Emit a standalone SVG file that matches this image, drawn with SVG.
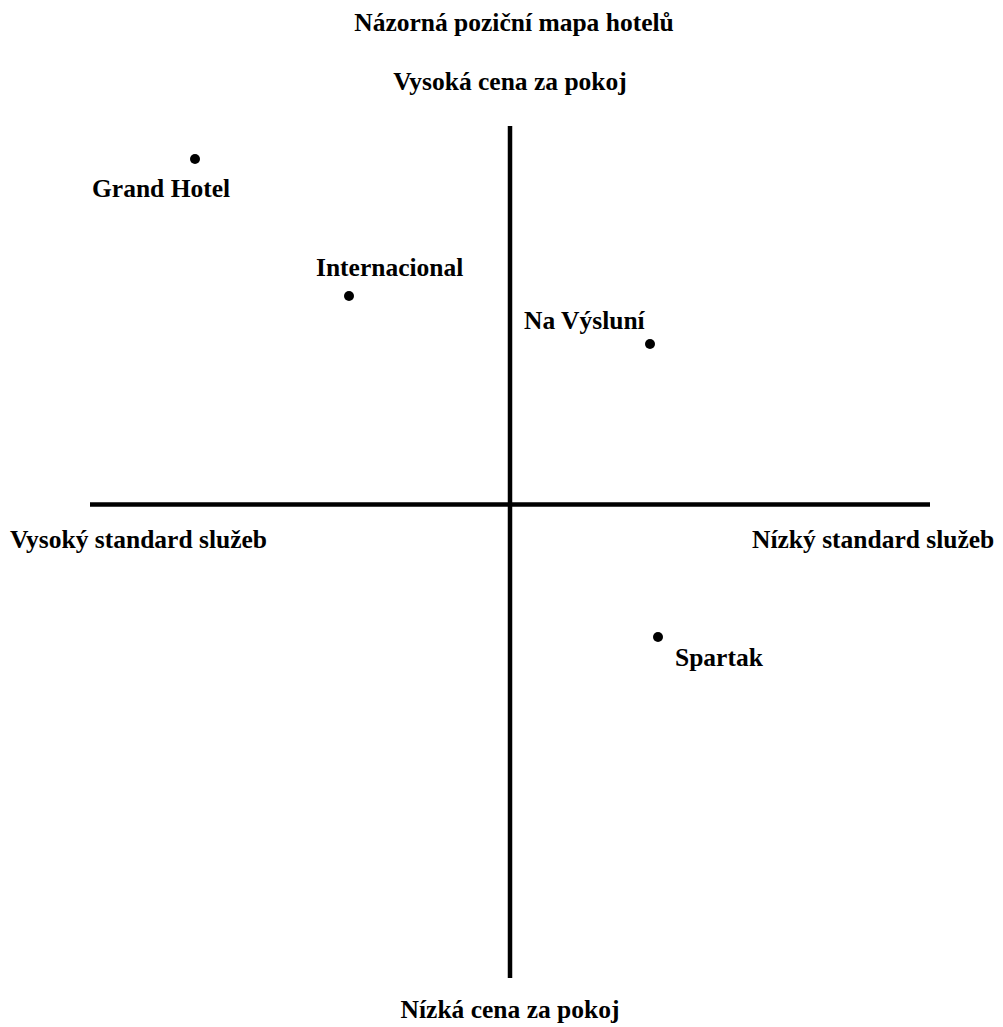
<svg xmlns="http://www.w3.org/2000/svg" width="1003" height="1027" viewBox="0 0 1003 1027">
<style>
text { font-family: "Liberation Serif", "Times New Roman", serif; font-weight: bold; font-size: 25.5px; fill: #000; }
.c { text-anchor: middle; }
.axis { stroke: #000; stroke-width: 4.5; fill: none; }
.dot { fill: #000; }
</style>
<rect width="1003" height="1027" fill="#fff"/>
<g id="titles">
<text class="c" x="514" y="31">Názorná poziční mapa hotelů</text>
<text class="c" x="510" y="90">Vysoká cena za pokoj</text>
<text class="c" x="510" y="1018">Nízká cena za pokoj</text>
<text x="10" y="548">Vysoký standard služeb</text>
<text x="752" y="548">Nízký standard služeb</text>
</g>
<g id="connectors">
<line class="axis" x1="510" y1="126" x2="510" y2="978"/>
<line class="axis" x1="90" y1="504.5" x2="930" y2="504.5"/>
</g>
<g id="grand-hotel">
<circle class="dot" cx="195" cy="159" r="5"/>
<text x="92" y="197">Grand Hotel</text>
</g>
<g id="internacional">
<circle class="dot" cx="349" cy="296" r="5"/>
<text x="316" y="276">Internacional</text>
</g>
<g id="na-vysluni">
<circle class="dot" cx="650" cy="344" r="5"/>
<text x="524" y="329">Na Výsluní</text>
</g>
<g id="spartak">
<circle class="dot" cx="658" cy="637" r="5"/>
<text x="675" y="666">Spartak</text>
</g>
</svg>
